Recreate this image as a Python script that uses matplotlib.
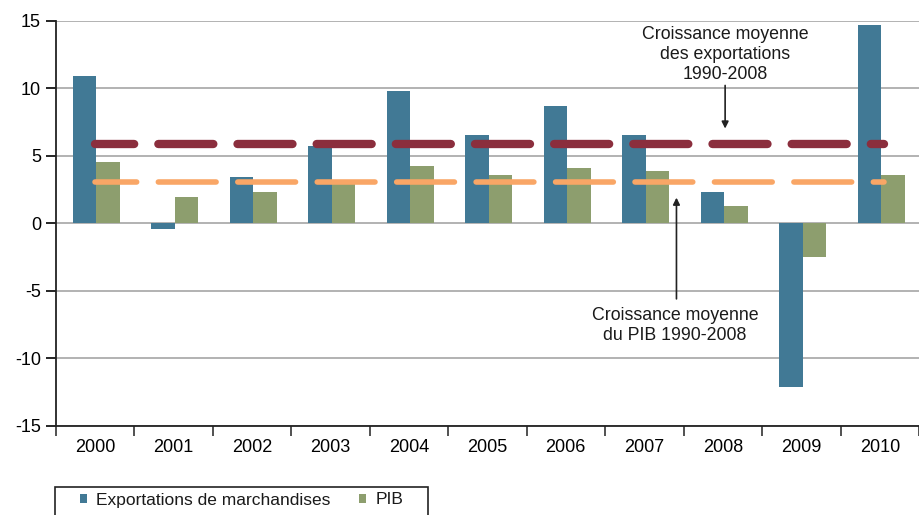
import matplotlib.pyplot as plt
from matplotlib.patches import Rectangle
import numpy as np

years = ['2000', '2001', '2002', '2003', '2004', '2005',
         '2006', '2007', '2008', '2009', '2010']
exports = [10.9, -0.4, 3.4, 5.7, 9.8, 6.5, 8.65, 6.55, 2.3, -12.1, 14.65]
pib = [4.5, 1.95, 2.3, 2.9, 4.2, 3.6, 4.1, 3.9, 1.3, -2.5, 3.6]
avg_exports = 5.9
avg_pib = 3.05

plt.rcParams['font.family'] = ['Liberation Sans Narrow', 'Liberation Sans', 'DejaVu Sans']
plt.rcParams['text.color'] = '#1a1a1a'

W, H = 919, 515
fig = plt.figure(figsize=(W / 100, H / 100), dpi=100)
ax = fig.add_axes([55.6 / W, (H - 426) / H, (W - 55.6) / W, (426 - 20.5) / H])

x = np.arange(len(years))
bw = 0.3
b1 = ax.bar(x - bw / 2 + 0.02, exports, bw, color='#417995', zorder=2)
b2 = ax.bar(x + bw / 2 + 0.02, pib, bw, color='#8d9e6e', zorder=2)

ax.plot([x[0], x[-1] + 0.05], [avg_exports] * 2, color='#8b2e3d', lw=6,
        linestyle=(1.9, (6.6, 2.9)), dash_capstyle='round', zorder=3)
ax.plot([x[0], x[-1] + 0.05], [avg_pib] * 2, color='#f9a666', lw=4,
        linestyle=(2.9, (10.4, 3.9)), dash_capstyle='round', zorder=3)

ax.set_xlim(-0.5, -0.5 + (W - 55.6) / 79.4)
ax.set_ylim(-15, 15)
ax.set_yticks(np.arange(-15, 16, 5))
ax.set_yticklabels([str(v) for v in range(-15, 16, 5)])
ax.yaxis.grid(True, color='#a6a6a6', lw=1.2, zorder=0)
ax.set_axisbelow(True)

ax.set_xticks(np.arange(len(years) + 1) - 0.5)
ax.set_xticklabels([])
ax.set_xticks(x, minor=True)
ax.set_xticklabels(years, minor=True, fontsize=13)
ax.tick_params(axis='x', which='minor', length=0, pad=9)
ax.tick_params(axis='x', which='major', length=7, width=1.2, color='#333333')
ax.tick_params(axis='y', length=7, width=1.2, labelsize=13, pad=3.5)

for s in ['top', 'right']:
    ax.spines[s].set_visible(False)
for s in ['left', 'bottom']:
    ax.spines[s].set_linewidth(1.3)
    ax.spines[s].set_color('#222222')

ax.annotate('', xy=(8.03, 6.8), xytext=(8.03, 10.4),
            arrowprops=dict(arrowstyle='-|>', color='#222222', lw=1.2, mutation_scale=10))
ax.text(8.03, 14.6, 'Croissance moyenne\ndes exportations\n1990-2008', ha='center', va='top',
        fontsize=12.8, linespacing=1.22)
ax.annotate('', xy=(7.41, 2.1), xytext=(7.41, -5.8),
            arrowprops=dict(arrowstyle='-|>', color='#222222', lw=1.2, mutation_scale=10))
ax.text(7.39, -6.2, 'Croissance moyenne\ndu PIB 1990-2008', ha='center', va='top',
        fontsize=12.8, linespacing=1.22)

fig.legend([b1, b2], ['Exportations de marchandises', 'PIB'], loc='center left',
           bbox_to_anchor=(80 / W, 1 - 500 / H), ncol=2, fontsize=12.5, frameon=False,
           handlelength=0.4, handleheight=0.4, handletextpad=0.55, columnspacing=1.6,
           borderpad=0, borderaxespad=0)
fig.add_artist(Rectangle((55 / W, -0.05), (428 - 55) / W, 0.05 + (H - 487) / H,
                         transform=fig.transFigure, fill=False, edgecolor='#222222', lw=1.2))

fig.savefig('out.png', dpi=100)
